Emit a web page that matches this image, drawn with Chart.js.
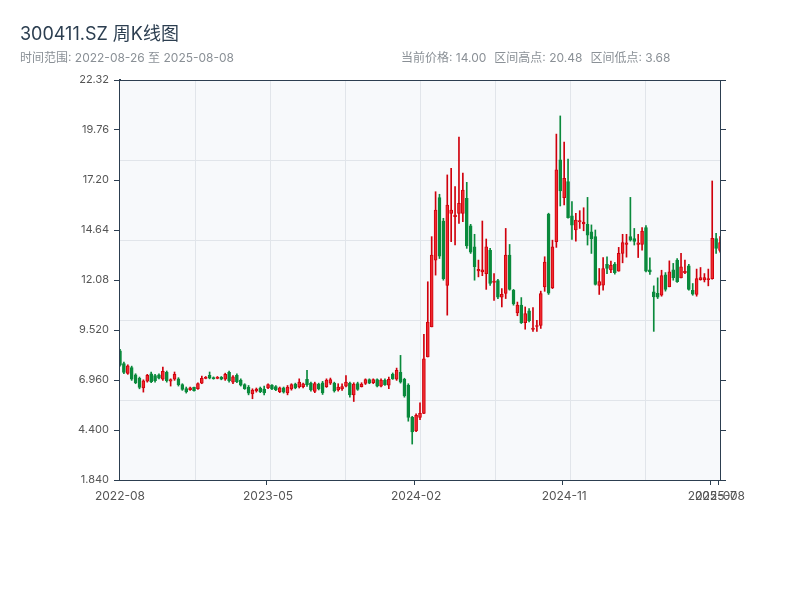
<!DOCTYPE html>
<html lang="zh-CN">
<head>
<meta charset="utf-8">
<title>300411.SZ 周K线图</title>
<script src="https://cdn.jsdelivr.net/npm/chart.js@4.4.1/dist/chart.umd.min.js"></script>
<style>
  html, body { margin: 0; padding: 0; background: #fff; }
  body { width: 800px; height: 600px; position: relative; overflow: hidden; font-family: Inter, "Noto Sans CJK SC", sans-serif; }
  #chart { position: absolute; left: 0; top: 0; }
  .title { position: absolute; left: 20px; top: 22px; font-size: 18px; line-height: 24px; color: #2c3e50; z-index: 2; }
  .sub { position: absolute; top: 50px; font-size: 12px; line-height: 16px; color: #8a9096; z-index: 2; white-space: nowrap; }
  .sub span { margin-right: 8px; }
</style>
</head>
<body>
<canvas id="chart" width="800" height="600"></canvas>
<div class="title">300411.SZ 周K线图</div>
<div class="sub" style="left:20px">时间范围: 2022-08-26 至 2025-08-08</div>
<div class="sub" style="left:401px"><span>当前价格: 14.00</span><span>区间高点: 20.48</span><span>区间低点: 3.68</span></div>
<script>
// weekly bars, first week 2022-08-26, last week 2025-08-08
const firstWeek = "2022-08-26";
const weekCount = 155;

const openP = [
  8.45, 7.80, 7.30, 7.60, 7.22, 7.05, 6.55, 6.90, 7.28, 7.18,
  7.22, 7.00, 7.35, 6.90, 7.00, 7.02, 6.72, 6.52, 6.46, 6.58,
  6.52, 6.80, 7.04, 7.20, 7.08, 7.04, 7.10, 7.00, 7.35, 6.85,
  7.20, 6.95, 6.72, 6.60, 6.25, 6.40, 6.55, 6.50, 6.55, 6.70,
  6.62, 6.36, 6.56, 6.30, 6.50, 6.75, 6.60, 6.62, 7.00, 6.80,
  6.38, 6.75, 6.82, 6.62, 6.80, 6.80, 6.45, 6.50, 6.65, 6.80,
  6.20, 6.78, 6.62, 6.78, 6.98, 6.82, 6.98, 6.65, 6.96, 6.70,
  7.25, 7.00, 7.35, 7.00, 6.70, 5.05, 4.35, 5.05, 5.25, 8.14,
  9.68, 13.10, 16.30, 15.10, 11.80, 15.49, 15.32, 15.49, 15.49, 16.26,
  14.85, 13.78, 12.55, 12.50, 12.41, 13.60, 11.95, 12.05, 11.20, 11.39,
  13.35, 11.55, 10.40, 10.80, 9.90, 10.50, 9.55, 9.70, 9.75, 11.73,
  15.45, 11.68, 14.04, 18.23, 16.30, 17.12, 15.37, 14.64, 15.05, 14.95,
  14.93, 14.55, 14.30, 11.80, 11.82, 12.88, 12.60, 12.90, 12.53, 13.44,
  13.90, 14.30, 14.20, 13.90, 13.90, 14.76, 12.60, 11.47, 11.40, 11.30,
  12.35, 11.73, 12.60, 13.10, 12.19, 12.45, 12.80, 11.55, 11.34, 12.10,
  12.08, 12.10, 12.15, 14.20, 13.60
];
const highP = [
  8.53, 7.88, 7.74, 7.67, 7.28, 7.11, 6.97, 7.25, 7.37, 7.25,
  7.28, 7.62, 7.42, 7.02, 7.37, 7.08, 6.77, 6.60, 6.60, 6.60,
  6.82, 7.16, 7.14, 7.37, 7.12, 7.14, 7.14, 7.31, 7.42, 7.19,
  7.28, 7.02, 6.77, 6.68, 6.51, 6.55, 6.60, 6.65, 6.77, 6.73,
  6.68, 6.60, 6.60, 6.68, 6.77, 6.80, 7.02, 6.80, 7.45, 6.85,
  6.85, 6.80, 6.89, 7.02, 7.06, 6.85, 6.77, 6.77, 7.19, 6.85,
  6.82, 6.85, 6.82, 7.02, 7.02, 7.02, 7.02, 7.02, 7.02, 7.11,
  7.32, 7.57, 8.22, 7.05, 6.77, 5.10, 5.23, 5.79, 9.30, 11.99,
  14.30, 16.60, 16.47, 15.24, 17.46, 17.80, 16.86, 19.40, 17.55, 17.08,
  14.93, 14.42, 13.10, 15.10, 14.18, 13.70, 12.41, 12.12, 11.64, 14.72,
  13.90, 11.60, 10.95, 11.18, 10.70, 10.62, 10.67, 10.02, 11.51, 13.27,
  15.50, 14.12, 19.55, 20.48, 19.14, 18.27, 16.09, 15.49, 15.63, 15.78,
  16.31, 14.90, 14.64, 12.67, 13.23, 13.27, 13.05, 12.98, 13.75, 14.42,
  14.42, 16.31, 14.72, 14.42, 14.76, 14.86, 13.22, 11.78, 12.19, 12.58,
  12.46, 13.06, 12.93, 13.18, 13.44, 13.10, 12.88, 11.90, 12.64, 12.72,
  12.41, 12.64, 17.15, 14.47, 14.30
];
const lowP = [
  7.67, 7.28, 7.25, 6.94, 6.77, 6.51, 6.34, 6.85, 6.82, 6.85,
  7.02, 6.94, 6.85, 6.65, 6.94, 6.65, 6.43, 6.29, 6.43, 6.39,
  6.48, 6.77, 7.02, 7.02, 7.00, 7.02, 6.97, 6.94, 6.85, 6.77,
  6.82, 6.65, 6.48, 6.20, 6.00, 6.34, 6.31, 6.20, 6.51, 6.46,
  6.41, 6.31, 6.29, 6.20, 6.44, 6.51, 6.55, 6.56, 6.63, 6.39,
  6.31, 6.45, 6.22, 6.58, 6.73, 6.34, 6.39, 6.43, 6.60, 6.08,
  5.86, 6.43, 6.60, 6.73, 6.77, 6.77, 6.60, 6.60, 6.68, 6.51,
  6.99, 6.94, 6.80, 6.08, 4.85, 3.68, 4.32, 4.93, 5.23, 8.14,
  9.68, 12.33, 13.18, 12.07, 10.28, 14.04, 13.87, 14.98, 15.07, 13.70,
  13.44, 12.07, 12.24, 12.30, 11.60, 11.80, 11.04, 11.13, 10.70, 11.13,
  11.56, 10.79, 10.25, 9.85, 9.56, 9.93, 9.45, 9.45, 9.60, 11.50,
  11.34, 11.64, 13.75, 15.87, 15.92, 15.24, 14.16, 14.07, 14.72, 14.60,
  13.87, 13.44, 11.82, 11.34, 11.56, 12.41, 12.45, 12.38, 12.53, 12.96,
  13.25, 14.07, 13.87, 13.23, 13.61, 12.50, 12.36, 9.45, 11.13, 11.25,
  11.51, 11.73, 12.07, 11.95, 12.19, 12.41, 11.56, 11.30, 11.25, 12.07,
  11.98, 11.78, 12.12, 13.44, 13.50
];
const closeP = [
  7.72, 7.35, 7.68, 7.00, 6.82, 6.58, 6.92, 7.20, 6.88, 6.92,
  7.06, 7.40, 6.92, 6.98, 7.25, 6.72, 6.48, 6.35, 6.56, 6.42,
  6.78, 7.05, 7.10, 7.05, 7.03, 7.10, 7.00, 7.25, 6.92, 7.12,
  6.88, 6.70, 6.52, 6.28, 6.45, 6.50, 6.36, 6.30, 6.72, 6.50,
  6.45, 6.56, 6.34, 6.60, 6.72, 6.56, 6.85, 6.76, 6.72, 6.45,
  6.78, 6.50, 6.30, 6.95, 6.98, 6.40, 6.60, 6.62, 6.85, 6.20,
  6.75, 6.48, 6.75, 6.98, 6.80, 6.98, 6.65, 6.95, 6.72, 7.00,
  7.02, 7.45, 6.85, 6.15, 5.05, 4.30, 5.15, 5.25, 8.05, 9.93,
  13.35, 15.66, 13.30, 12.15, 15.92, 15.66, 15.41, 16.00, 16.69, 13.83,
  13.50, 12.76, 12.62, 12.60, 13.78, 11.90, 12.02, 11.20, 11.35, 13.35,
  11.60, 10.85, 10.80, 9.90, 10.36, 10.00, 9.62, 9.75, 11.39, 13.00,
  11.40, 13.78, 17.72, 16.64, 17.29, 15.27, 14.89, 15.15, 15.12, 15.05,
  14.38, 14.20, 11.85, 12.00, 12.67, 12.67, 12.85, 12.45, 13.44, 14.00,
  13.98, 14.12, 14.05, 13.98, 14.59, 12.53, 12.50, 11.22, 11.20, 12.30,
  11.60, 12.50, 12.20, 12.00, 12.76, 12.52, 11.60, 11.35, 12.15, 12.20,
  12.20, 12.15, 14.21, 13.70, 14.00
];

const yTicks = [1.84, 4.40, 6.96, 9.52, 12.08, 14.64, 17.20, 19.76, 22.32];
const xTickIdx = [0, 38, 76, 114, 152, 154];

const UP_LINE = "#d0000c";
const UP_FILL = "#ee2a2f";
const DOWN = "#0a8a3c";
const AXIS = "#2c3e50";

// week labels, one per bar
const weeks = [];
for (let i = 0; i < weekCount; i++) {
  const d = new Date(firstWeek + "T00:00:00Z");
  d.setUTCDate(d.getUTCDate() + i * 7);
  weeks.push(d.toISOString().slice(0, 10));
}

const isUp = weeks.map((_, i) => closeP[i] >= openP[i]);

// plot background, inner grid and top border
const plotFrame = {
  id: "plotFrame",
  beforeDatasetsDraw(chart) {
    const { ctx, chartArea: a } = chart;
    ctx.save();
    ctx.fillStyle = "#f7f9fb";
    ctx.fillRect(a.left, a.top, a.right - a.left, a.bottom - a.top);
    ctx.strokeStyle = "#e1e5ea";
    ctx.lineWidth = 1;
    ctx.beginPath();
    for (let k = 1; k < 8; k++) {
      const x = Math.round(a.left + (a.right - a.left) * k / 8) + 0.5;
      ctx.moveTo(x, a.top);
      ctx.lineTo(x, a.bottom);
    }
    for (let k = 1; k < 5; k++) {
      const y = Math.round(a.top + (a.bottom - a.top) * k / 5) + 0.5;
      ctx.moveTo(a.left, y);
      ctx.lineTo(a.right, y);
    }
    ctx.stroke();
    ctx.restore();
  },
  afterDraw(chart) {
    const { ctx, chartArea: a } = chart;
    ctx.save();
    ctx.strokeStyle = AXIS;
    ctx.lineWidth = 1;
    ctx.beginPath();
    ctx.moveTo(a.left, Math.round(a.top) + 0.5);
    ctx.lineTo(a.right, Math.round(a.top) + 0.5);
    ctx.stroke();
    ctx.restore();
  }
};

Chart.defaults.font.family = "Inter, 'Noto Sans CJK SC', sans-serif";

const setYTicks = (scale) => { scale.ticks = yTicks.map((v) => ({ value: v })); };

new Chart(document.getElementById("chart"), {
  type: "bar",
  data: {
    labels: weeks,
    datasets: [
      {
        label: "实体",
        data: weeks.map((_, i) => [openP[i], closeP[i]]),
        backgroundColor: isUp.map((u) => (u ? UP_FILL : DOWN)),
        borderColor: isUp.map((u) => (u ? UP_LINE : DOWN)),
        borderWidth: 1,
        borderSkipped: false,
        barThickness: 3,
        minBarLength: 1,
        grouped: false,
        order: 0
      },
      {
        label: "影线",
        data: weeks.map((_, i) => [lowP[i], highP[i]]),
        backgroundColor: isUp.map((u) => (u ? UP_LINE : DOWN)),
        borderWidth: 0,
        barThickness: 1,
        grouped: false,
        order: 1
      }
    ]
  },
  options: {
    responsive: false,
    animation: false,
    layout: { padding: { left: 0, top: 80, right: 68, bottom: 90 } },
    plugins: {
      legend: { display: false },
      tooltip: { enabled: false }
    },
    scales: {
      x: {
        type: "category",
        offset: false,
        border: { display: true, color: AXIS, width: 2 },
        grid: {
          drawOnChartArea: false,
          drawTicks: true,
          tickLength: 5,
          color: (c) => (xTickIdx.includes(c.index) ? AXIS : "rgba(0,0,0,0)")
        },
        ticks: {
          autoSkip: false,
          maxRotation: 0,
          padding: 4,
          color: "#555",
          font: { size: 12 },
          callback: (v, i) => (xTickIdx.includes(i) ? weeks[i].slice(0, 7) : "")
        },
        afterFit: (s) => { s.height = 30; }
      },
      y: {
        position: "left",
        min: 1.84,
        max: 22.32,
        afterBuildTicks: setYTicks,
        border: { color: AXIS, width: 2 },
        grid: { drawOnChartArea: false, tickLength: 6, color: AXIS },
        ticks: {
          padding: 5,
          color: "#555",
          font: { size: 11 },
          callback: (v) => Number(v).toPrecision(4)
        },
        afterFit: (s) => { s.width = 120; }
      },
      y2: {
        position: "right",
        min: 1.84,
        max: 22.32,
        afterBuildTicks: setYTicks,
        border: { color: AXIS, width: 1 },
        grid: { drawOnChartArea: false, tickLength: 6, color: AXIS },
        ticks: { display: false },
        afterFit: (s) => { s.width = 12; }
      }
    }
  },
  plugins: [plotFrame]
});
</script>
</body>
</html>
